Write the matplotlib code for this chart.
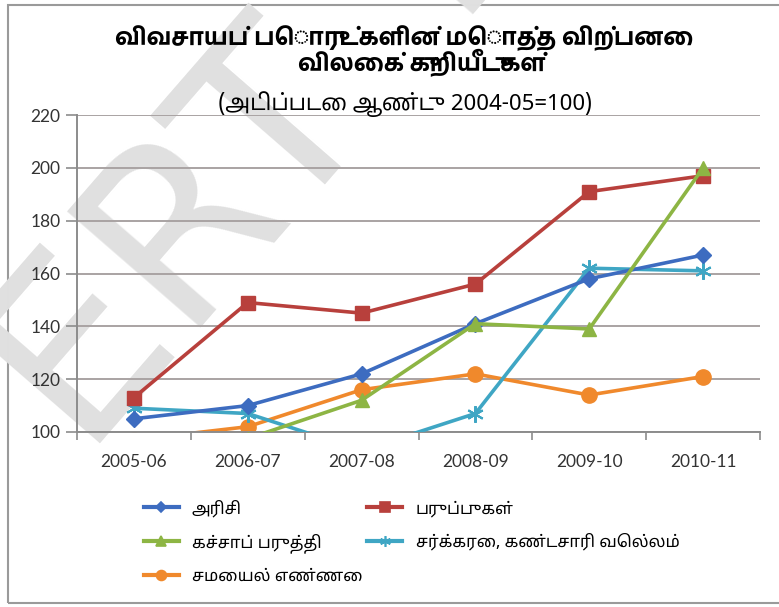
import matplotlib
matplotlib.use("Agg")
import matplotlib.pyplot as plt
from matplotlib.patches import Rectangle
from matplotlib.lines import Line2D

TITLE_FONT = ["Hind Madurai", "DejaVu Sans"]
BODY_FONT = ["Noto Sans Tamil", "DejaVu Sans"]

years = ["2005-06", "2006-07", "2007-08", "2008-09", "2009-10", "2010-11"]
rice = [105, 110, 122, 141, 158, 167]
pulses = [113, 149, 145, 156, 191, 197]
cotton = [95, 97.5, 112, 141, 139, 200]
sugar = [109, 107, 93, 107, 162, 161]
oil = [97, 102, 116, 122, 114, 121]

names = ["அரிசி", "பருப்புகள்", "கச்சாப் பருத்தி",
         "சர்க்கரை, கண்டசாரி வெல்லம்", "சமையல் எண்ணை"]
title1 = "விவசாயப் பொருட்களின் மொத்த விற்பனை"
title2 = "விலைக் குறியீடுகள்"
subtitle = "(அடிப்படை ஆண்டு 2004-05=100)"

fig = plt.figure(figsize=(7.79, 6.07), dpi=100)

# outer frame
fig.patches.append(Rectangle((8 / 779, 4 / 607), 1, 598 / 607, transform=fig.transFigure,
                             fill=False, edgecolor="#9a9a9a", linewidth=1.5, zorder=-2))

# watermark behind everything
fig.text(-0.07, 0.27, "ERT TN", rotation=49, fontsize=175, color="#e0e0e0",
         family="DejaVu Sans", ha="left", va="baseline", zorder=-1)

ax = fig.add_axes([77 / 779, 1 - 432 / 607, 683 / 779, 317 / 607])
ax.patch.set_alpha(0)

x = list(range(len(years)))
lw = 2.6
ax.plot(x, rice, color="#3d6cc0", lw=lw, marker="D", ms=8, label=names[0], zorder=5)
ax.plot(x, pulses, color="#b8403c", lw=lw, marker="s", ms=10, label=names[1], zorder=4)
ax.plot(x, cotton, color="#8db544", lw=lw, marker="^", ms=10, label=names[2], zorder=6)
ax.plot(x, sugar, color="#3fa6c4", lw=lw, marker=(6, 2, 0), ms=12, mew=1.5,
        label=names[3], zorder=3)
ax.plot(x, oil, color="#f0892c", lw=lw, marker="o", ms=11, label=names[4], zorder=2)

ax.set_xlim(-0.5, len(years) - 0.5)
ax.set_ylim(100, 220)
ax.set_yticks(range(100, 221, 20))
ax.set_xticks(x)
ax.set_xticklabels(years)
ax.set_xticks([i - 0.5 for i in range(len(years) + 1)], minor=True)
ax.tick_params(axis="x", which="major", length=0, pad=16)
ax.tick_params(axis="x", which="minor", length=6, color="#8c8c8c", width=1.2)
ax.tick_params(axis="y", length=8, color="#8c8c8c", width=1.2, pad=4)
for lab in ax.get_xticklabels() + ax.get_yticklabels():
    lab.set_family("Lato")
    lab.set_fontsize(12.5)
    lab.set_color("#333333")
ax.grid(axis="y", color="#a9a3a3", lw=1.4)
ax.set_axisbelow(True)
for s in ["top", "right"]:
    ax.spines[s].set_visible(False)
for s in ["left", "bottom"]:
    ax.spines[s].set_color("#8c8c8c")
    ax.spines[s].set_linewidth(1.4)

fig.text(404 / 779, 1 - 38 / 607, title1, ha="center", va="center", fontsize=17,
         fontweight="bold", family=TITLE_FONT)
fig.text(422 / 779, 1 - 63 / 607, title2, ha="center", va="center", fontsize=17,
         fontweight="bold", family=TITLE_FONT)
fig.text(405 / 779, 1 - 104 / 607, subtitle, ha="center", va="center", fontsize=16,
         family=BODY_FONT)

# legend: rice, cotton, oil in the first column; pulses, sugar in the second
h, l = ax.get_legend_handles_labels()
order = [0, 2, 4, 1, 3]
handles = []
for i in order:
    src = h[i]
    handles.append(Line2D([], [], color=src.get_color(), lw=3, marker=src.get_marker(),
                          ms=src.get_markersize() * 0.65, mew=1.2))
fig.legend(handles, [l[i] for i in order], ncol=2, loc="upper left",
           bbox_to_anchor=(0.165, 0.202), frameon=False, handlelength=2.1,
           handletextpad=0.8, columnspacing=0.3, labelspacing=0.95,
           prop={"family": BODY_FONT, "size": 12})

fig.savefig("out.png", dpi=100)
